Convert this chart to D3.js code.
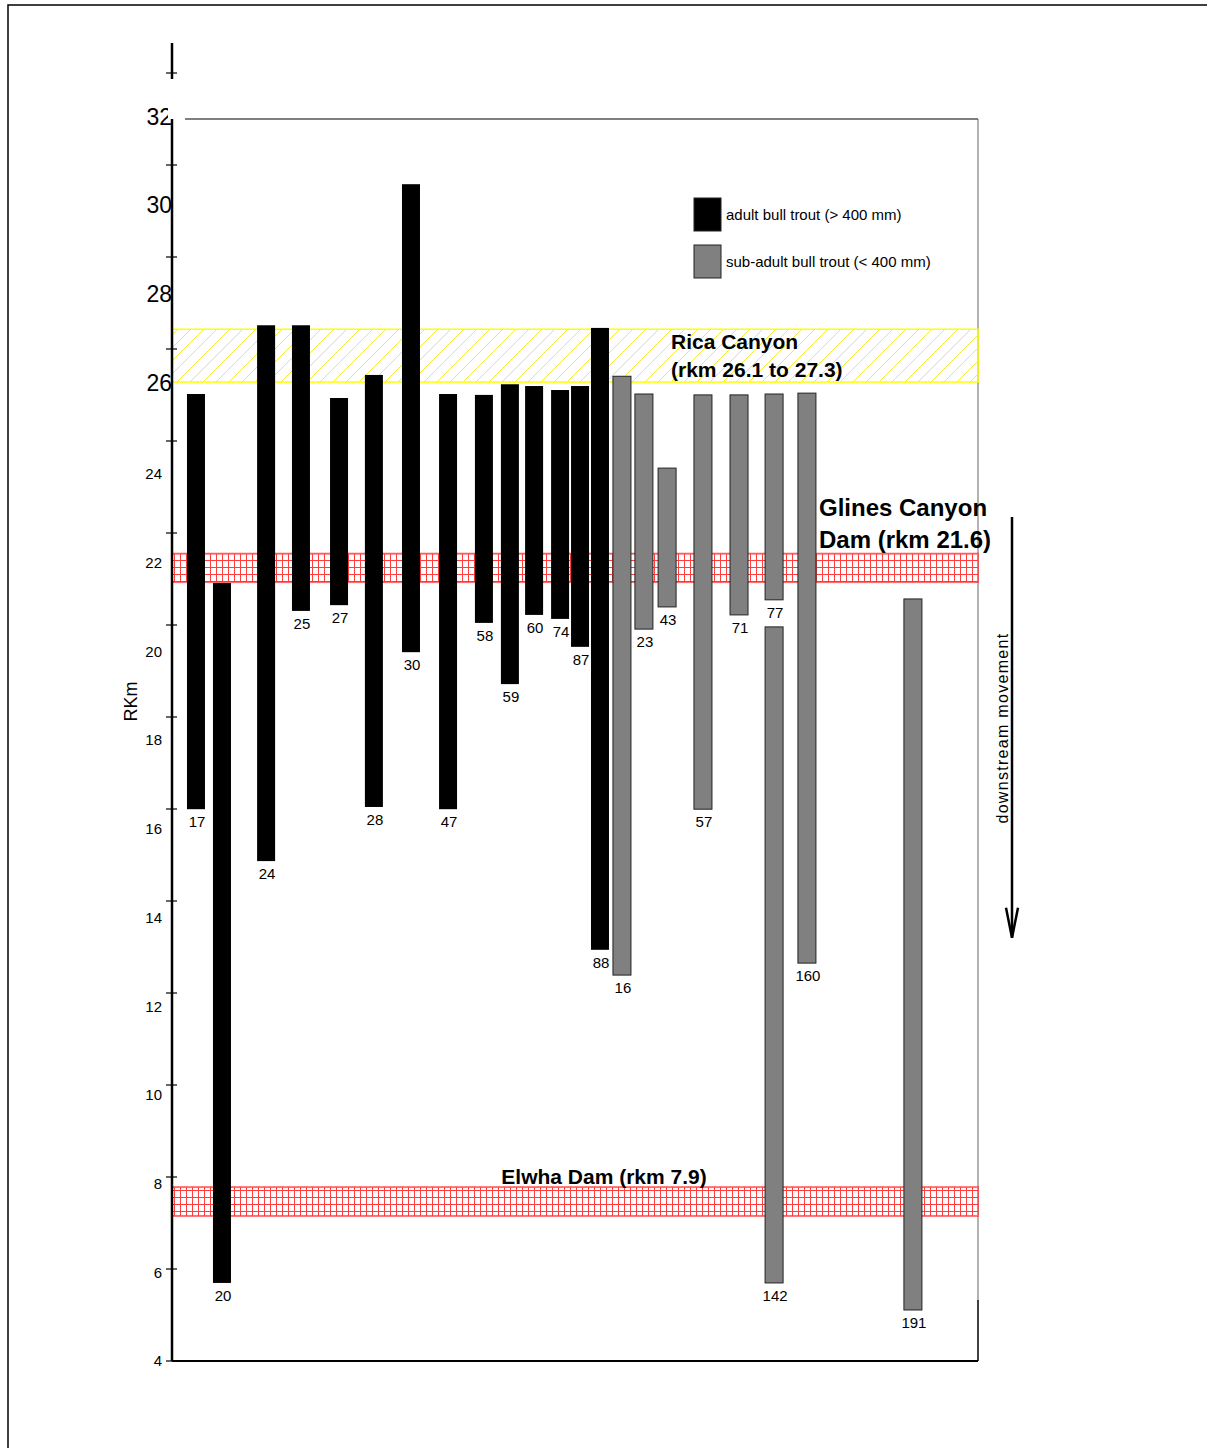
<!DOCTYPE html>
<html>
<head>
<meta charset="utf-8">
<script src="https://cdn.jsdelivr.net/npm/d3@7"></script>
<style>
  body { margin: 0; background: #fff; }
  svg { display: block; font-family: "Liberation Sans", Arial, sans-serif; }
</style>
</head>
<body>
<div id="chart"></div>
<script>
// fish id labels, slot position along x, upper / lower rkm, class
const fishLabels = ['17', '20', '24', '25', '27', '28', '30', '47', '58', '59', '60', '74', '87', '88',
    '16', '23', '43', '57', '71', '77', '142', '160', '191'];
const fishSlot = [1.19, 2.48, 4.67, 6.40, 8.29, 10.02, 11.86, 13.70, 15.48, 16.77, 17.97, 19.26, 20.25, 21.24,
    22.33, 23.42, 24.57, 26.35, 28.14, 29.88, 29.88, 31.51, 36.77];
const fishTop = [25.80, 21.54, 27.35, 27.35, 25.71, 26.23, 30.53, 25.80, 25.78, 26.02, 25.98, 25.89, 25.98, 27.29,
    26.20, 25.80, 24.13, 25.78, 25.78, 25.80, 20.55, 25.82, 21.18];
const fishBottom = [16.44, 5.76, 15.27, 20.91, 21.04, 16.49, 19.98, 16.44, 20.64, 19.26, 20.82, 20.73, 20.10, 13.27,
    12.70, 20.50, 21.00, 16.44, 20.82, 21.16, 5.76, 12.97, 5.15];
const fishClass = ['adult', 'adult', 'adult', 'adult', 'adult', 'adult', 'adult', 'adult', 'adult', 'adult', 'adult', 'adult', 'adult', 'adult',
    'sub', 'sub', 'sub', 'sub', 'sub', 'sub', 'sub', 'sub', 'sub'];

const yTicks = [4, 6, 8, 10, 12, 14, 16, 18, 20, 22, 24, 26, 28, 30, 32];
const bigTicks = [26, 28, 30, 32];

const ricaBand = [26.07, 27.26];
const glinesBand = [21.56, 22.2];
const elwhaBand = [7.27, 7.92];

const legendItems = [
    { key: 'adult', text: 'adult bull trout (> 400 mm)' },
    { key: 'sub', text: 'sub-adult bull trout (< 400 mm)' }
];

const W = 1207, H = 1448;
const plot = { left: 172, right: 978, top: 119, bottom: 1361 };

const svg = d3.select('#chart').append('svg')
    .attr('width', W)
    .attr('height', H);

const defs = svg.append('defs');
const hatch = defs.append('pattern')
    .attr('id', 'hatch')
    .attr('patternUnits', 'userSpaceOnUse')
    .attr('width', 13).attr('height', 13);
hatch.append('path')
    .attr('d', 'M-1,14 L14,-1 M-4,4 L4,-4 M9,17 L17,9')
    .attr('stroke', '#f2ea3a').attr('stroke-width', 1);

const grid = defs.append('pattern')
    .attr('id', 'grid')
    .attr('patternUnits', 'userSpaceOnUse')
    .attr('width', 6).attr('height', 7);
grid.append('rect').attr('width', 6).attr('height', 7).attr('fill', '#fff');
grid.append('path')
    .attr('d', 'M0.5,0 V7 M0,0.5 H6')
    .attr('stroke', '#ff1a1a').attr('stroke-width', 1).attr('opacity', 0.85);

const fill = { adult: '#000', sub: '#808080' };

const x = d3.scaleLinear().domain([0, 40]).range([plot.left, plot.right]);
const y = d3.scaleLinear().domain([4, 32]).range([plot.bottom, plot.top]);
// the axis ticks were drawn on their own, longer scale
const yTick = d3.scaleLinear().domain([4, 32]).range([plot.bottom, 73]);

// outer border
svg.append('path')
    .attr('d', `M8,${H} V5 H${W}`)
    .attr('fill', 'none').attr('stroke', '#000').attr('stroke-width', 1.5);

// plot frame
svg.append('line')
    .attr('x1', plot.left + 13).attr('x2', plot.right)
    .attr('y1', plot.top).attr('y2', plot.top)
    .attr('stroke', '#000').attr('stroke-width', 1.2);
svg.append('line')
    .attr('x1', plot.right).attr('x2', plot.right)
    .attr('y1', plot.top).attr('y2', 1300)
    .attr('stroke', '#666').attr('stroke-width', 1);
svg.append('line')
    .attr('x1', plot.right).attr('x2', plot.right)
    .attr('y1', 1300).attr('y2', plot.bottom)
    .attr('stroke', '#000').attr('stroke-width', 1.5);
svg.append('line')
    .attr('x1', plot.left).attr('x2', plot.right)
    .attr('y1', plot.bottom).attr('y2', plot.bottom)
    .attr('stroke', '#000').attr('stroke-width', 1.8);

// bands
function band(range, patternId, stroke, sw, op) {
    svg.append('rect')
        .attr('x', plot.left)
        .attr('y', y(range[1]))
        .attr('width', plot.right - plot.left)
        .attr('height', y(range[0]) - y(range[1]))
        .attr('fill', `url(#${patternId})`)
        .attr('stroke', stroke)
        .attr('stroke-width', sw)
        .attr('stroke-opacity', op);
}
band(ricaBand, 'hatch', '#ffff00', 1.5, 1);
band(glinesBand, 'grid', '#ff3333', 2, 0.7);
band(elwhaBand, 'grid', '#ff3333', 2, 0.7);

// bars
const fish = fishLabels.map((label, i) => ({
    label,
    slot: fishSlot[i],
    top: fishTop[i],
    bottom: fishBottom[i],
    cls: fishClass[i]
}));
const barW = 18;

svg.append('g').selectAll('rect')
    .data(fish)
    .join('rect')
    .attr('x', d => x(d.slot) - barW / 2)
    .attr('y', d => y(d.top))
    .attr('width', barW)
    .attr('height', d => y(d.bottom) - y(d.top))
    .attr('fill', d => fill[d.cls])
    .attr('stroke', d => d.cls === 'sub' ? '#222' : 'none')
    .attr('stroke-width', 1);

svg.append('g').selectAll('text')
    .data(fish)
    .join('text')
    .attr('x', d => x(d.slot) + 1)
    .attr('y', d => y(d.bottom) + 18)
    .attr('text-anchor', 'middle')
    .style('font-size', '15px')
    .text(d => d.label);

// y axis
svg.append('line')
    .attr('x1', plot.left).attr('x2', plot.left)
    .attr('y1', plot.top).attr('y2', plot.bottom)
    .attr('stroke', '#000').attr('stroke-width', 2.5);
svg.append('line')
    .attr('x1', plot.left).attr('x2', plot.left)
    .attr('y1', yTick(32) - 30).attr('y2', yTick(32) + 6)
    .attr('stroke', '#000').attr('stroke-width', 2.5);

svg.append('g').selectAll('line')
    .data(yTicks)
    .join('line')
    .attr('x1', plot.left - 6).attr('x2', plot.left + 5)
    .attr('y1', d => yTick(d)).attr('y2', d => yTick(d))
    .attr('stroke', '#000').attr('stroke-width', 1.2);

svg.append('g').selectAll('text')
    .data(yTicks)
    .join('text')
    .attr('x', d => bigTicks.includes(d) ? plot.left : plot.left - 10)
    .attr('y', d => y(d))
    .attr('dy', d => bigTicks.includes(d) ? '0.24em' : '0.36em')
    .attr('text-anchor', 'end')
    .style('font-size', d => bigTicks.includes(d) ? '23px' : '15px')
    .text(d => d);

// cover the right half of the clipped "32"
svg.append('rect')
    .attr('x', plot.left - 4).attr('y', y(32) - 16)
    .attr('width', 4).attr('height', 16)
    .attr('fill', '#fff');

svg.append('text')
    .attr('transform', `translate(137,${y(18.87)}) rotate(-90)`)
    .attr('text-anchor', 'middle')
    .style('font-size', '18px')
    .text('RKm');

// band labels
svg.append('text')
    .attr('x', 671).attr('y', y(ricaBand[1]) + 20)
    .style('font-size', '21px').style('font-weight', 'bold')
    .text('Rica Canyon');
svg.append('text')
    .attr('x', 671).attr('y', y(ricaBand[1]) + 48)
    .style('font-size', '21px').style('font-weight', 'bold')
    .text('(rkm 26.1 to 27.3)');

svg.append('text')
    .attr('x', 819).attr('y', y(glinesBand[1]) - 38)
    .style('font-size', '24px').style('font-weight', 'bold')
    .text('Glines Canyon');
svg.append('text')
    .attr('x', 819).attr('y', y(glinesBand[1]) - 6)
    .style('font-size', '24px').style('font-weight', 'bold')
    .text('Dam (rkm 21.6)');

svg.append('text')
    .attr('x', 604).attr('y', y(elwhaBand[1]) - 3)
    .attr('text-anchor', 'middle')
    .style('font-size', '21px').style('font-weight', 'bold')
    .text('Elwha Dam (rkm 7.9)');

// legend
const legend = svg.append('g').attr('transform', 'translate(694,198)');
legendItems.forEach((item, i) => {
    const g = legend.append('g').attr('transform', `translate(0,${i * 47})`);
    g.append('rect')
        .attr('width', 27).attr('height', 33)
        .attr('fill', fill[item.key])
        .attr('stroke', '#222').attr('stroke-width', 1);
    g.append('text')
        .attr('x', 32).attr('y', 22)
        .style('font-size', '15px')
        .text(item.text);
});

// downstream arrow
svg.append('line')
    .attr('x1', 1012).attr('x2', 1012)
    .attr('y1', y(23.03)).attr('y2', y(13.54))
    .attr('stroke', '#000').attr('stroke-width', 2.5);
svg.append('path')
    .attr('d', `M1006,${y(14.22)} L1012,${y(13.54)} L1018,${y(14.22)}`)
    .attr('fill', 'none').attr('stroke', '#000').attr('stroke-width', 2.5);
svg.append('text')
    .attr('transform', `translate(1008,${y(18.27)}) rotate(-90)`)
    .attr('text-anchor', 'middle')
    .style('font-size', '16px')
    .style('letter-spacing', '1.3px')
    .text('downstream movement');
</script>
</body>
</html>
